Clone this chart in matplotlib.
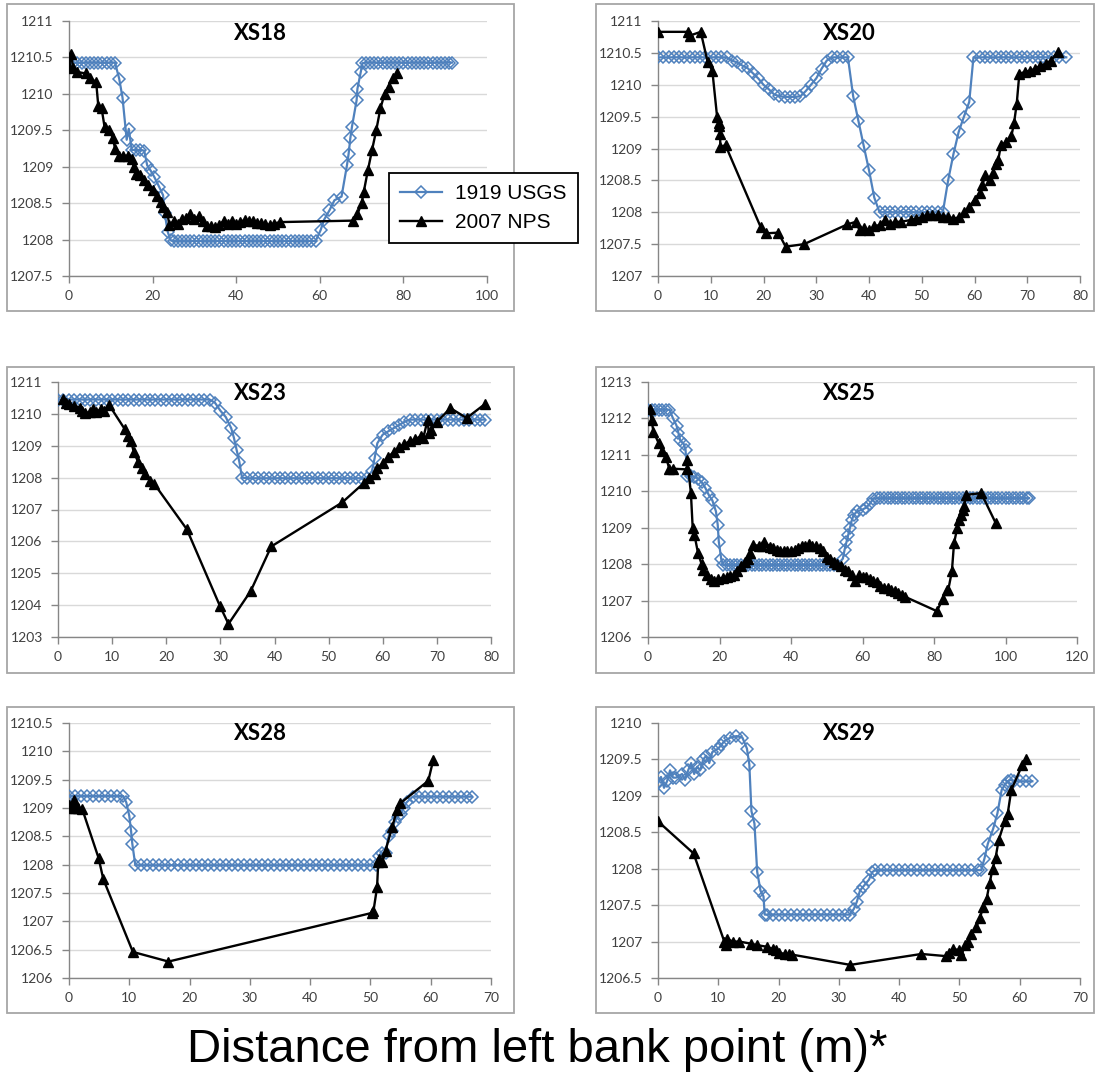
import numpy as np
import matplotlib
matplotlib.use("Agg")
import matplotlib.pyplot as plt
from matplotlib.patches import Rectangle
from matplotlib.ticker import FuncFormatter

# cross section profiles, (distance m, elevation m)
xs18_usgs = [(0, 1210.43), (1, 1210.43), (2, 1210.43), (3, 1210.43), (4, 1210.43), (5, 1210.43),
             (6, 1210.43), (7, 1210.43), (8, 1210.43), (9, 1210.43), (10, 1210.43), (11, 1210.43),
             (12, 1210.21), (12.8, 1209.95), (13.8, 1209.37), (14.3, 1209.52), (15, 1209.23), (16, 1209.23),
             (17, 1209.23), (18, 1209.22), (18.7, 1209.02), (19.5, 1208.95), (20.4, 1208.86), (21.6, 1208.72),
             (22.5, 1208.61), (22.9, 1208.36), (23.6, 1208.11), (24.3, 1207.99),
             (25, 1207.98), (26, 1207.98), (27, 1207.98), (28, 1207.98), (29, 1207.98), (30, 1207.98),
             (31, 1207.98), (32, 1207.98), (33, 1207.98), (34, 1207.98), (35, 1207.98), (36, 1207.98),
             (37, 1207.98), (38, 1207.98), (39, 1207.98), (40, 1207.98), (41, 1207.98), (42, 1207.98),
             (43, 1207.98), (44, 1207.98), (45, 1207.98), (46, 1207.98), (47, 1207.98), (48, 1207.98),
             (49, 1207.98), (50, 1207.98), (51, 1207.98), (52, 1207.98), (53, 1207.98), (54, 1207.98),
             (55, 1207.98), (56, 1207.98), (57, 1207.98), (58, 1207.98), (59, 1207.98),
             (60.2, 1208.13), (61, 1208.27), (62.3, 1208.40), (63.5, 1208.54), (65.2, 1208.59), (66.5, 1209.02),
             (66.9, 1209.18), (67.3, 1209.39), (67.7, 1209.55), (68.8, 1209.91), (69, 1210.07), (69.8, 1210.30),
             (70.2, 1210.42), (71, 1210.43), (72, 1210.43), (73, 1210.43), (74, 1210.43), (75, 1210.43),
             (76, 1210.43), (77, 1210.43), (78, 1210.43), (79, 1210.43), (80, 1210.43), (81, 1210.43),
             (82, 1210.43), (83, 1210.43), (84, 1210.43), (85, 1210.43), (86, 1210.43), (87, 1210.43),
             (88, 1210.43), (89, 1210.43), (90, 1210.43), (91, 1210.43), (91.6, 1210.43)]
xs18_nps = [(0, 1210.37), (0.5, 1210.55), (1, 1210.35), (2, 1210.3), (4, 1210.28), (5, 1210.22),
            (6.5, 1210.16), (7, 1209.84), (7.8, 1209.8), (8.5, 1209.55), (9.5, 1209.5), (10.5, 1209.4),
            (11, 1209.25), (12, 1209.15), (13, 1209.15), (14, 1209.15), (15, 1209.1), (15.5, 1209.0),
            (16, 1208.9), (17, 1208.88), (18, 1208.82), (19, 1208.75), (20, 1208.68), (21, 1208.6),
            (22, 1208.52), (22.5, 1208.45), (23.5, 1208.38), (24, 1208.2), (25, 1208.25), (26, 1208.22),
            (27, 1208.28), (28, 1208.3), (29, 1208.35), (30, 1208.28), (31, 1208.32), (32, 1208.25),
            (33, 1208.18), (34, 1208.18), (35, 1208.17), (36, 1208.2), (37, 1208.26), (38, 1208.22),
            (39, 1208.25), (40, 1208.22), (41, 1208.24), (42, 1208.27), (43, 1208.25), (44, 1208.26),
            (45, 1208.23), (46, 1208.23), (47, 1208.21), (48, 1208.2), (49, 1208.22), (50.5, 1208.24),
            (68, 1208.26), (69, 1208.35), (70, 1208.5), (70.5, 1208.65), (71.5, 1208.95), (72.5, 1209.23),
            (73.5, 1209.5), (74.5, 1209.8), (75.5, 1210.0), (76.5, 1210.1), (77.5, 1210.22), (78.5, 1210.28)]

xs20_usgs = [(0, 1210.43), (1, 1210.43), (2, 1210.43), (3, 1210.43), (4, 1210.43), (5, 1210.43),
             (6, 1210.43), (7, 1210.43), (8, 1210.43), (9, 1210.43), (10, 1210.43), (11, 1210.43),
             (12, 1210.43), (13, 1210.43), (14, 1210.38), (15, 1210.35), (16, 1210.3), (17, 1210.26),
             (18, 1210.18), (19, 1210.1), (20, 1210.0), (21, 1209.93), (22, 1209.85), (23, 1209.82),
             (24, 1209.81), (25, 1209.81), (26, 1209.81), (27, 1209.82), (28, 1209.9), (29, 1210.0),
             (30, 1210.1), (31, 1210.25), (32, 1210.38), (33, 1210.43), (34, 1210.43), (35, 1210.43),
             (36, 1210.43), (37, 1209.82), (38, 1209.43), (39, 1209.04), (40, 1208.66), (41, 1208.23),
             (42, 1208.0), (43, 1208.0), (44, 1208.0), (45, 1208.0), (46, 1208.0), (47, 1208.0),
             (48, 1208.0), (49, 1208.0), (50, 1208.0), (51, 1208.0), (52, 1208.0), (53, 1208.0),
             (54, 1208.0), (55, 1208.5), (56, 1208.91), (57, 1209.26), (58, 1209.5), (59, 1209.73),
             (59.8, 1210.43), (61, 1210.43), (62, 1210.43), (63, 1210.43), (64, 1210.43), (65, 1210.43),
             (66, 1210.43), (67, 1210.43), (68, 1210.43), (69, 1210.43), (70, 1210.43), (71, 1210.43),
             (72, 1210.43), (73, 1210.43), (74, 1210.43), (75, 1210.43), (76, 1210.43), (77.4, 1210.43)]
xs20_nps = [(0, 1210.83), (5.7, 1210.83), (6, 1210.77), (8.1, 1210.83), (9.4, 1210.36), (10.3, 1210.22),
            (11.2, 1209.5), (11.5, 1209.4), (11.6, 1209.35), (11.8, 1209.22), (11.8, 1209.03), (12.8, 1209.05),
            (19.45, 1207.77), (20.5, 1207.67), (22.8, 1207.68), (24.2, 1207.46), (27.7, 1207.5),
            (35.9, 1207.81), (37.5, 1207.85), (38.2, 1207.72), (39, 1207.75), (40, 1207.72), (41, 1207.78),
            (42, 1207.8), (43, 1207.88), (44, 1207.82), (45, 1207.85), (46, 1207.85), (48, 1207.88),
            (49, 1207.9), (50, 1207.92), (51, 1207.95), (52, 1207.95), (53, 1207.95), (54, 1207.93),
            (55, 1207.93), (56, 1207.9), (57, 1207.92), (58, 1208.0), (59, 1208.08), (60, 1208.2),
            (61, 1208.3), (61.5, 1208.42), (62, 1208.58), (63, 1208.5), (63.5, 1208.62), (64, 1208.75),
            (64.5, 1208.82), (65, 1209.05), (66, 1209.1), (67, 1209.2), (67.5, 1209.4), (68, 1209.7),
            (68.5, 1210.17), (69.5, 1210.2), (70.5, 1210.22), (71.5, 1210.25), (72.5, 1210.3),
            (73.5, 1210.33), (74.5, 1210.38), (75.8, 1210.52)]

xs23_usgs = [(0, 1210.45), (1, 1210.45), (2, 1210.45), (3, 1210.45), (4, 1210.45), (5, 1210.45),
             (6, 1210.45), (7, 1210.45), (8, 1210.45), (9, 1210.45), (10, 1210.45), (11, 1210.45),
             (12, 1210.45), (13, 1210.45), (14, 1210.45), (15, 1210.45), (16, 1210.45), (17, 1210.45),
             (18, 1210.45), (19, 1210.45), (20, 1210.45), (21, 1210.45), (22, 1210.45), (23, 1210.45),
             (24, 1210.45), (25, 1210.45), (26, 1210.45), (27, 1210.45), (28, 1210.45), (29, 1210.35),
             (30, 1210.1), (31, 1209.9), (32, 1209.55), (32.5, 1209.25), (33, 1208.87), (33.5, 1208.5),
             (34, 1208.0), (35, 1207.98), (36, 1207.98), (37, 1207.98), (38, 1207.98), (39, 1207.98),
             (40, 1207.98), (41, 1207.98), (42, 1207.98), (43, 1207.98), (44, 1207.98), (45, 1207.98),
             (46, 1207.98), (47, 1207.98), (48, 1207.98), (49, 1207.98), (50, 1207.98), (51, 1207.98),
             (52, 1207.98), (53, 1207.98), (54, 1207.98), (55, 1207.98), (56, 1207.98), (57, 1207.98),
             (58, 1208.2), (58.5, 1208.61), (59, 1209.08), (60, 1209.35), (61, 1209.45), (62, 1209.55),
             (63, 1209.65), (64, 1209.75), (65, 1209.82), (66, 1209.82), (67, 1209.82), (68, 1209.82),
             (69, 1209.82), (70, 1209.82), (71, 1209.82), (72, 1209.82), (73, 1209.82), (74, 1209.82),
             (75, 1209.82), (76, 1209.82), (77, 1209.82), (78, 1209.82), (78.8, 1209.82)]
xs23_nps = [(1, 1210.48), (1.5, 1210.35), (2, 1210.3), (3, 1210.25), (4, 1210.2), (4.5, 1210.1),
            (4.9, 1210.03), (6, 1210.05), (6.5, 1210.15), (7, 1210.05), (8, 1210.15), (8.5, 1210.1),
            (9.4, 1210.29), (12.3, 1209.53), (13, 1209.3), (13.5, 1209.15), (14, 1208.8), (14.8, 1208.5),
            (15.5, 1208.3), (16, 1208.1), (17, 1207.9), (17.8, 1207.8), (23.8, 1206.38), (29.9, 1203.98),
            (31.5, 1203.41), (35.6, 1204.44), (39.4, 1205.84), (52.5, 1207.22), (56.5, 1207.83),
            (57.5, 1208.0), (58.5, 1208.1), (59, 1208.3), (60, 1208.45), (61, 1208.65), (62, 1208.8),
            (63, 1208.95), (64, 1209.05), (65, 1209.15), (66, 1209.2), (67, 1209.3), (67.5, 1209.25),
            (68.3, 1209.82), (68.5, 1209.4), (69, 1209.5), (70, 1209.75), (72.5, 1210.18), (75.5, 1209.87),
            (78.9, 1210.31)]

xs25_usgs = [(0, 1212.24), (1, 1212.24), (2, 1212.24), (3, 1212.24), (4, 1212.24), (5, 1212.24),
             (6, 1212.24), (7, 1212.0), (8, 1211.8), (8.5, 1211.6), (9, 1211.4), (10, 1211.3),
             (10.5, 1211.14), (11, 1210.42), (12, 1210.42), (13, 1210.4), (14, 1210.35), (15, 1210.25),
             (16, 1210.1), (17, 1209.9), (18, 1209.75), (19, 1209.45), (19.5, 1209.08), (19.8, 1208.62),
             (20.5, 1208.13), (21, 1207.98), (22, 1207.98), (23, 1207.98), (24, 1207.98), (25, 1207.98),
             (26, 1207.98), (27, 1207.98), (28, 1207.98), (29, 1207.98), (30, 1207.98), (31, 1207.98),
             (32, 1207.98), (33, 1207.98), (34, 1207.98), (35, 1207.98), (36, 1207.98), (37, 1207.98),
             (38, 1207.98), (39, 1207.98), (40, 1207.98), (41, 1207.98), (42, 1207.98), (43, 1207.98),
             (44, 1207.98), (45, 1207.98), (46, 1207.98), (47, 1207.98), (48, 1207.98), (49, 1207.98),
             (50, 1207.98), (51, 1207.98), (52, 1207.98), (53, 1207.98), (54.5, 1208.15), (55, 1208.4),
             (55.5, 1208.6), (56, 1208.8), (56.5, 1209.0), (57, 1209.2), (57.5, 1209.35), (58.5, 1209.45),
             (60, 1209.5), (61, 1209.55), (62, 1209.65), (63, 1209.8), (64, 1209.81), (65, 1209.81),
             (66, 1209.81), (67, 1209.81), (68, 1209.81), (69, 1209.81), (70, 1209.81), (71, 1209.81),
             (72, 1209.81), (73, 1209.81), (74, 1209.81), (75, 1209.81), (76, 1209.81), (77, 1209.81),
             (78, 1209.81), (79, 1209.81), (80, 1209.81), (81, 1209.81), (82, 1209.81), (83, 1209.81),
             (84, 1209.81), (85, 1209.81), (86, 1209.81), (87, 1209.81), (88, 1209.81), (89, 1209.81),
             (90, 1209.81), (91, 1209.81), (92, 1209.81), (93, 1209.81), (94, 1209.81), (95, 1209.81),
             (96, 1209.81), (97, 1209.81), (98, 1209.81), (99, 1209.81), (100, 1209.81), (101, 1209.81),
             (102, 1209.81), (103, 1209.81), (104, 1209.81), (105, 1209.81), (106, 1209.81), (106.6, 1209.81)]
xs25_nps = [(0.5, 1212.25), (1, 1211.96), (1.5, 1211.64), (3, 1211.32), (4, 1211.1), (5, 1210.95),
            (6, 1210.6), (7, 1210.62), (11, 1210.6), (11, 1210.85), (12, 1209.95), (12.5, 1209.0),
            (13, 1208.8), (14, 1208.3), (15, 1208.0), (15.5, 1207.85), (16.5, 1207.7), (17.5, 1207.6),
            (18.5, 1207.55), (19.5, 1207.6), (21, 1207.62), (22, 1207.65), (23, 1207.68), (24, 1207.7),
            (25, 1207.8), (26, 1207.95), (27, 1208.05), (28, 1208.15), (28.5, 1208.3), (29.5, 1208.53),
            (31, 1208.5), (32, 1208.5), (32.5, 1208.62), (34, 1208.48), (35, 1208.45), (36, 1208.4),
            (37, 1208.35), (38, 1208.35), (39, 1208.35), (40, 1208.35), (41, 1208.4), (42, 1208.45),
            (43, 1208.5), (44, 1208.5), (45, 1208.55), (46, 1208.5), (47, 1208.5), (48, 1208.45),
            (49, 1208.35), (50, 1208.2), (51, 1208.15), (52, 1208.05), (53, 1208.0), (54, 1207.95),
            (55, 1207.85), (56, 1207.8), (57, 1207.7), (58, 1207.55), (59, 1207.7), (60, 1207.65),
            (61, 1207.65), (62, 1207.6), (63, 1207.55), (64, 1207.5), (65, 1207.4), (66, 1207.35),
            (67, 1207.35), (68, 1207.3), (69, 1207.25), (70, 1207.2), (71, 1207.15), (72, 1207.1),
            (80.8, 1206.71), (82.5, 1207.05), (83.5, 1207.3), (84, 1207.3), (85, 1207.8), (85.6, 1208.57),
            (86.5, 1209.0), (87, 1209.2), (87.5, 1209.35), (88, 1209.5), (88.5, 1209.6), (88.9, 1209.9),
            (93.2, 1209.95), (97.3, 1209.12)]

xs28_usgs = [(0, 1209.21), (1, 1209.21), (2, 1209.21), (3, 1209.21), (4, 1209.21), (5, 1209.21),
             (6, 1209.21), (7, 1209.21), (8, 1209.21), (9, 1209.21), (9.5, 1209.1), (10, 1208.86),
             (10.3, 1208.59), (10.5, 1208.37), (11, 1207.99), (12, 1207.99), (13, 1207.99), (14, 1207.99),
             (15, 1207.99), (16, 1207.99), (17, 1207.99), (18, 1207.99), (19, 1207.99), (20, 1207.99),
             (21, 1207.99), (22, 1207.99), (23, 1207.99), (24, 1207.99), (25, 1207.99), (26, 1207.99),
             (27, 1207.99), (28, 1207.99), (29, 1207.99), (30, 1207.99), (31, 1207.99), (32, 1207.99),
             (33, 1207.99), (34, 1207.99), (35, 1207.99), (36, 1207.99), (37, 1207.99), (38, 1207.99),
             (39, 1207.99), (40, 1207.99), (41, 1207.99), (42, 1207.99), (43, 1207.99), (44, 1207.99),
             (45, 1207.99), (46, 1207.99), (47, 1207.99), (48, 1207.99), (49, 1207.99), (50, 1207.99),
             (51, 1207.99), (51.5, 1208.15), (52, 1208.2), (52.5, 1208.2), (53, 1208.5), (53.5, 1208.6),
             (54, 1208.75), (54.5, 1208.85), (55, 1208.9), (55.5, 1209.0), (56, 1209.1), (57, 1209.2),
             (58, 1209.2), (59, 1209.2), (60, 1209.2), (61, 1209.2), (62, 1209.2), (63, 1209.2),
             (64, 1209.2), (65, 1209.2), (66, 1209.2), (66.8, 1209.2)]
xs28_nps = [(0, 1209.06), (0.5, 1209.0), (0.8, 1209.14), (1, 1209.0), (1.5, 1209.0), (2.2, 1208.98),
            (4.9, 1208.12), (5.7, 1207.74), (10.6, 1206.46), (16.5, 1206.29), (50.3, 1207.15),
            (50.5, 1207.18), (51.1, 1207.6), (51.3, 1208.05), (51.5, 1208.1), (52, 1208.05),
            (52.5, 1208.25), (53.6, 1208.66), (54.4, 1208.96), (54.9, 1209.08), (59.6, 1209.48),
            (60.4, 1209.84)]

xs29_usgs = [(0, 1209.18), (0.5, 1209.26), (1, 1209.11), (1.5, 1209.2), (2, 1209.35), (2.5, 1209.25),
             (3, 1209.25), (4, 1209.3), (4.5, 1209.22), (5, 1209.35), (5.5, 1209.45), (6, 1209.3),
             (6.5, 1209.4), (7, 1209.35), (7.5, 1209.5), (8, 1209.55), (8.5, 1209.45), (9, 1209.6),
             (10, 1209.65), (10.5, 1209.7), (11, 1209.75), (12, 1209.8), (13, 1209.82), (14, 1209.8),
             (14.75, 1209.65), (15.15, 1209.43), (15.5, 1208.79), (16, 1208.62), (16.45, 1207.96),
             (17, 1207.7), (17.5, 1207.62), (17.7, 1207.37), (18, 1207.37), (19, 1207.37), (20, 1207.37),
             (21, 1207.37), (22, 1207.37), (23, 1207.37), (24, 1207.37), (25, 1207.37), (26, 1207.37),
             (27, 1207.37), (28, 1207.37), (29, 1207.37), (30, 1207.37), (31, 1207.37), (31.8, 1207.37),
             (32.5, 1207.45), (33, 1207.55), (33.5, 1207.7), (34, 1207.75), (35, 1207.85), (35.5, 1207.95),
             (36, 1207.98), (37, 1207.98), (38, 1207.98), (39, 1207.98), (40, 1207.98), (41, 1207.98),
             (42, 1207.98), (43, 1207.98), (44, 1207.98), (45, 1207.98), (46, 1207.98), (47, 1207.98),
             (48, 1207.98), (49, 1207.98), (50, 1207.98), (51, 1207.98), (52, 1207.98), (53, 1207.98),
             (53.6, 1207.98), (54.15, 1208.14), (54.7, 1208.34), (55.6, 1208.55), (56.3, 1208.76),
             (57, 1209.08), (57.5, 1209.15), (58, 1209.2), (58.5, 1209.22), (59, 1209.2), (60, 1209.2),
             (61, 1209.2), (62.1, 1209.2)]
xs29_nps = [(0, 1208.65), (5.9, 1208.21), (11, 1207.0), (11.2, 1206.95), (11.5, 1207.03), (12.5, 1207.0),
            (13.5, 1207.0), (15.5, 1206.97), (16.5, 1206.95), (18, 1206.93), (19, 1206.9), (19.5, 1206.88),
            (20, 1206.85), (21, 1206.83), (21.8, 1206.83), (22.3, 1206.82), (31.9, 1206.68), (43.7, 1206.83),
            (47.8, 1206.8), (48.2, 1206.85), (49, 1206.9), (50, 1206.88), (50.3, 1206.82), (51, 1206.95),
            (51.5, 1207.0), (52, 1207.1), (52.8, 1207.2), (53.4, 1207.32), (53.9, 1207.47), (54.5, 1207.58),
            (55, 1207.8), (55.5, 1208.0), (56, 1208.15), (56.5, 1208.39), (57.5, 1208.65), (58, 1208.75),
            (58.6, 1209.08), (60.4, 1209.42), (61.1, 1209.5)]

# name, usgs, nps, xlim, xstep, ylim, ystep
panels = [
    ("XS18", xs18_usgs, xs18_nps, (0, 100), 20, (1207.5, 1211), 0.5),
    ("XS20", xs20_usgs, xs20_nps, (0, 80), 10, (1207, 1211), 0.5),
    ("XS23", xs23_usgs, xs23_nps, (0, 80), 10, (1203, 1211), 1),
    ("XS25", xs25_usgs, xs25_nps, (0, 120), 20, (1206, 1213), 1),
    ("XS28", xs28_usgs, xs28_nps, (0, 70), 10, (1206, 1210.5), 0.5),
    ("XS29", xs29_usgs, xs29_nps, (0, 70), 10, (1206.5, 1210), 0.5),
]

W, H = 1095, 1076
# plot areas and chart boxes in pixels: x0, y0, x1, y1
plot_px = [(69, 21, 487, 276), (658, 21, 1080, 276),
           (58, 382, 491, 637), (648, 382, 1077, 637),
           (69, 723, 491, 978), (658, 723, 1080, 978)]
box_px = [(7, 4, 514, 311), (596, 4, 1094, 311),
          (7, 367, 514, 673), (596, 367, 1094, 673),
          (7, 707, 514, 1013), (596, 707, 1094, 1013)]
title_px = [(260, 33), (849, 33), (260, 394), (849, 394), (260, 734), (849, 734)]

blue = "#4F81BD"
grid = "#D9D9D9"
axis_col = "#868686"

fig = plt.figure(figsize=(W / 100, H / 100), dpi=100)
fig.patch.set_facecolor("white")

fmt = FuncFormatter(lambda v, p: "{:g}".format(round(v, 2)))
handles = None

for n in range(len(panels)):
    name, usgs, nps, xlim, xstep, ylim, ystep = panels[n]
    bx0, by0, bx1, by1 = box_px[n]
    fig.patches.append(Rectangle((bx0 / W, 1 - by1 / H), (bx1 - bx0) / W, (by1 - by0) / H,
                                 transform=fig.transFigure, fill=False,
                                 edgecolor="#A6A6A6", linewidth=1.3, zorder=0))
    x0, y0, x1, y1 = plot_px[n]
    ax = fig.add_axes([x0 / W, 1 - y1 / H, (x1 - x0) / W, (y1 - y0) / H])

    u = np.array(usgs)
    k = np.array(nps)
    l1, = ax.plot(u[:, 0], u[:, 1], color=blue, lw=1.6, marker="D", ms=6.5,
                  mfc="none", mec=blue, mew=1.1, label="1919 USGS", zorder=3)
    l2, = ax.plot(k[:, 0], k[:, 1], color="black", lw=1.7, marker="^", ms=6.5,
                  mfc="black", mec="black", label="2007 NPS", zorder=4)
    if handles is None:
        handles = [l1, l2]

    ax.set_xlim(*xlim)
    ax.set_ylim(*ylim)
    ax.set_xticks(np.arange(xlim[0], xlim[1] + 0.001, xstep))
    ax.set_yticks(np.arange(ylim[0], ylim[1] + 0.001, ystep))
    ax.xaxis.set_major_formatter(fmt)
    ax.yaxis.set_major_formatter(fmt)
    ax.grid(axis="y", color=grid, lw=1.0)
    ax.set_axisbelow(True)
    for s in ["top", "right"]:
        ax.spines[s].set_visible(False)
    for s in ["left", "bottom"]:
        ax.spines[s].set_color(axis_col)
        ax.spines[s].set_linewidth(1.0)
    ax.tick_params(direction="out", length=5, width=1.0, color=axis_col,
                   labelsize=10, labelcolor="#404040")
    ax.tick_params(axis="x", pad=5)
    ax.tick_params(axis="y", pad=6)
    for lab in ax.get_xticklabels() + ax.get_yticklabels():
        lab.set_family("Lato")

    tx, ty = title_px[n]
    fig.text(tx / W, 1 - ty / H, name, ha="center", va="center",
             fontsize=16, fontweight="bold", family="Lato")

leg = fig.legend(handles, ["1919 USGS", "2007 NPS"], loc="upper left",
                 bbox_to_anchor=(389 / W, 1 - 173 / H),
                 prop={"family": "Liberation Sans", "size": 15},
                 frameon=True, fancybox=False, edgecolor="black", framealpha=1,
                 handlelength=2.0, numpoints=1, borderpad=0.55, labelspacing=0.45,
                 handletextpad=0.6, borderaxespad=0)
leg.get_frame().set_linewidth(1.3)

fig.text(537 / W, 1 - 1062 / H, "Distance from left bank point (m)*", ha="center",
         va="baseline", fontsize=34, family="Liberation Sans")

fig.savefig("out.png", dpi=100)
